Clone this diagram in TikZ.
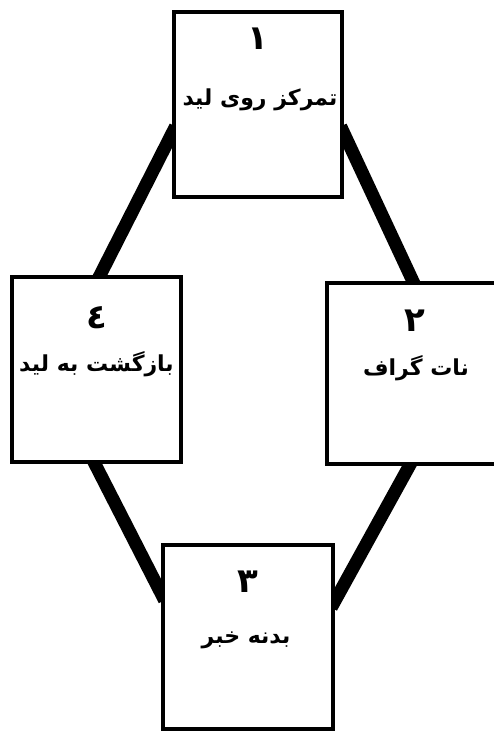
\documentclass[tikz,border=0pt]{standalone}
\usepackage{fontspec}
\TeXXeTstate=1
\newfontfamily\arabicfont[Script=Arabic]{DejaVu Sans}
\usetikzlibrary{backgrounds,calc,positioning}

\begin{document}
\begin{tikzpicture}[x=1pt,y=-1pt]
\tikzset{
  stagebox/.style={rectangle,draw=black,fill=white,line width=3.2pt,minimum width=168pt,minimum height=185pt,inner sep=0pt},
  stagenum/.style={font=\arabicfont\bfseries\fontsize{34}{38}\selectfont,inner sep=0pt},
  stagetext/.style={font=\arabicfont\bfseries\fontsize{22}{26}\selectfont,inner sep=0pt},
  bandedge/.style={draw=black,line width=13pt,shorten <=-7pt,shorten >=-7pt}
}
\useasboundingbox (0,0) rectangle (493,731);
% the four boxes
\node[stagebox] (n_top) at (258,104.5) {};
\node[stagebox,minimum width=169pt] (n_left) at (96.5,369.5) {};
\node[stagebox,minimum width=172pt,minimum height=181pt] (n_right) at (413,373.5) {};
\node[stagebox,minimum width=170pt,minimum height=184pt] (n_bottom) at (248,637) {};
% numbers and titles
\node[stagenum] (n_d1) at ($(n_top.north)+(0,28)$) {\beginR ١\endR};
\node[stagetext] (n_t1) at ($(n_top.north)+(2,89)$) {\beginR تمرکز روی لید\endR};
\node[stagenum] (n_d2) at ($(n_right.north)+(2,39)$) {\beginR ٢\endR};
\node[stagetext] (n_t2) at ($(n_right.north)+(3,87)$) {\beginR نات گراف\endR};
\node[stagenum] (n_d3) at ($(n_bottom.north)+(0,38)$) {\beginR ٣\endR};
\node[stagetext] (n_t3) at ($(n_bottom.north)+(-2,97)$) {\beginR بدنه خبر\endR};
\node[stagenum] (n_d4) at ($(n_left.north)+(0,42)$) {\beginR ٤\endR};
\node[stagetext] (n_t4) at ($(n_left.north)+(0,89)$) {\beginR بازگشت به لید\endR};
% thick links behind the boxes
\begin{scope}[on background layer]
\draw[bandedge] ($(n_top.north west)!0.65!(n_top.south west)$) -- ($(n_left.north west)!0.52!(n_left.north east)$);
\draw[bandedge] ($(n_top.north east)!0.65!(n_top.south east)$) -- ($(n_right.north west)!0.50!(n_right.north east)$);
\draw[bandedge] ($(n_left.south west)!0.49!(n_left.south east)$) -- ($(n_bottom.north west)!0.27!(n_bottom.south west)$);
\draw[bandedge] ($(n_right.south west)!0.48!(n_right.south east)$) -- ($(n_bottom.north east)!0.31!(n_bottom.south east)$);
\end{scope}
\end{tikzpicture}
\end{document}
